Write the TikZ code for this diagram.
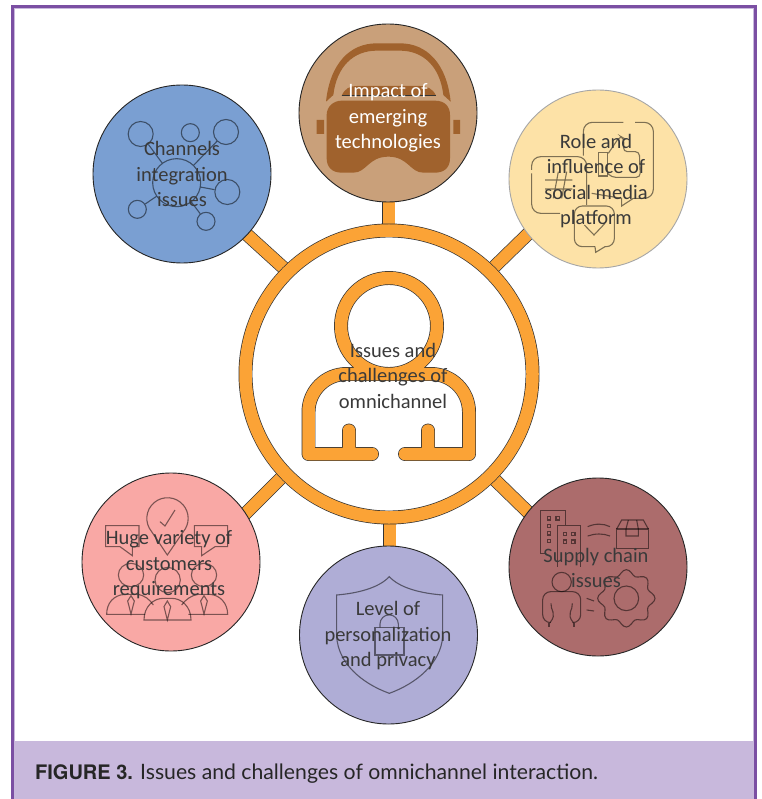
\documentclass[tikz,border=0pt]{standalone}
\usepackage{fontspec}
\setmainfont{Carlito}
\newfontfamily\capbold{TeX Gyre Heros}
\newfontfamily\capreg{Lato}
\usetikzlibrary{backgrounds}
\pgfdeclarelayer{bottom}
\pgfsetlayers{bottom,background,main}
\definecolor{fr}{HTML}{7B4FA3}
\definecolor{frl}{HTML}{C8B8DC}
\definecolor{org}{HTML}{FBA336}
\definecolor{vr}{HTML}{A0622D}
\definecolor{txt}{HTML}{3A3A3A}
\definecolor{ctop}{HTML}{C9A07A}
\definecolor{cblue}{HTML}{7A9FD2}
\definecolor{cyel}{HTML}{FDE2A7}
\definecolor{cpink}{HTML}{F9A8A5}
\definecolor{cmar}{HTML}{AC6C6C}
\definecolor{cpur}{HTML}{AFADD6}
\tikzset{
 disc/.style={circle,inner sep=0pt,minimum size=178pt,draw=black!85,line width=.9pt,fill=#1},
 lbl/.style={align=center,text=txt,font=\fontsize{20.5}{25.5}\selectfont,inner sep=0pt},
 ic/.style={draw=black,draw opacity=.5,line width=1.1pt,fill=none},
 pipe/.style={draw=black!80,line width=.7pt,double=org,double distance=12pt},
 icn/.style={circle,inner sep=0pt,draw=black,draw opacity=.5,line width=1.1pt},
 zoomed/.style={x=.33333pt,y=-.33333pt}
}
\begin{document}
\begin{tikzpicture}[x=1pt,y=-1pt]
\useasboundingbox (0,0) rectangle (761,799);
\begin{pgfonlayer}{bottom}
\fill[white] (0,0) rectangle (761,799);
\end{pgfonlayer}
% frame
\fill[frl] (14,741) rectangle (754,799);
\draw[frl,line width=1pt] (14.5,799) -- (14.5,8.5) -- (753.5,8.5) -- (753.5,799);
\draw[fr,line width=3.2pt] (12.6,799) -- (12.6,6.6) -- (755.4,6.6) -- (755.4,799);
% discs and ring
\node[disc=ctop] (top) at (388,113) {};
\node[disc=cblue] (blue) at (182,174) {};
\node[disc=cyel,draw=black!35] (yel) at (598,179) {};
\node[disc=cpink] (pink) at (171,562) {};
\node[disc=cmar] (mar) at (598,567) {};
\node[disc=cpur] (pur) at (388.5,635) {};
\node[circle,inner sep=0pt,minimum size=287pt,draw=black!80,line width=.7pt,double=org,double distance=12.5pt,fill=white] (ring) at (389,374) {};
% connectors
\begin{scope}[on background layer]
\coordinate (rt) at (388.5,228); \coordinate (rb) at (389.5,518);
\coordinate (rtl) at (287,271); \coordinate (rtr) at (491,270);
\coordinate (rbl) at (284,475); \coordinate (rbr) at (492,477);
\coordinate (et) at (388.5,198); \coordinate (eb) at (389.5,550);
\coordinate (etl) at (243,231); \coordinate (etr) at (532,230);
\coordinate (ebl) at (242,517); \coordinate (ebr) at (532,516);
\draw[pipe] (rt) -- (et);
\draw[pipe] (rb) -- (eb);
\draw[pipe] (rtl) -- (etl);
\draw[pipe] (rtr) -- (etr);
\draw[pipe] (rbl) -- (ebl);
\draw[pipe] (rbr) -- (ebr);
\end{scope}
% person
\draw[draw=black!80,line width=.7pt,double=org,double distance=12.5pt,line cap=round,line join=round]
 (389,326) circle[radius=48]
 (372,454) -- (308.5,454) -- (308.5,412) arc[start angle=180,end angle=270,radius=38] -- (431,374)
 arc[start angle=270,end angle=360,radius=38] -- (469,454) -- (405,454)
 (349,454) -- (349,430.5)
 (428,454) -- (428,430.5);
% VR headset
\begin{scope}[shift={(280,0)},zoomed]
\fill[vr] (185,302) -- (465,302) .. controls (495,302) and (510,320) .. (510,345) -- (510,475) .. controls (510,505) and (490,518) .. (465,518) -- (430,518) .. controls (390,518) and (385,470) .. (325,470) .. controls (265,470) and (260,518) .. (220,518) -- (185,518) .. controls (155,518) and (140,500) .. (140,475) -- (140,345) .. controls (140,320) and (160,302) .. (185,302) -- cycle;
\fill[vr] (110,360) rectangle (132,402) (520,360) rectangle (540,402);
\fill[vr] (138,305) .. controls (150,190) and (210,130) .. (290,130) -- (360,130) .. controls (440,130) and (500,190) .. (512,305) -- (490,285) .. controls (480,200) and (430,152) .. (360,152) -- (290,152) .. controls (220,152) and (170,200) .. (160,285) -- cycle;
\fill[vr] (185,287) .. controls (195,265) and (210,258) .. (230,258) -- (420,258) .. controls (440,258) and (458,265) .. (468,287) -- cycle;
\draw[black!80,line width=.7pt] (185,287) -- (468,287);
\end{scope}
% network
\begin{scope}[shift={(80,100)},zoomed]
\node[icn,minimum size=48pt] (hub) at (290,248) {};
\node[icn,minimum size=25pt] (s1) at (182,102) {};
\node[icn,minimum size=18pt] (s2) at (331,98) {};
\node[icn,minimum size=25pt] (s3) at (438,96) {};
\node[icn,minimum size=25pt] (s4) at (442,276) {};
\node[icn,minimum size=18pt] (s5) at (378,364) {};
\node[icn,minimum size=18pt] (s6) at (172,328) {};
\draw[ic] (hub) -- (s1);
\draw[ic] (hub) -- (s3);
\draw[ic] (hub) -- (s4);
\draw[ic] (hub) -- (s5);
\draw[ic] (hub) -- (s6);
\end{scope}
% social media
\begin{scope}[shift={(495,90)},zoomed]
\draw[ic,rounded corners=9pt] (385,97) -- (265,97) -- (265,197);
\draw[ic,rounded corners=9pt] (420,97) -- (475,97) -- (475,325) -- (415,325);
\draw[ic] (415,325) -- (380,348) -- (380,325) -- (290,310);
\draw[ic,rounded corners=9pt] (110,240) -- (110,200) -- (275,200) -- (275,345);
\draw[ic,rounded corners=9pt] (110,250) -- (110,370) -- (195,370);
\draw[ic] (150,270) -- (232,270) (150,297) -- (232,297) (190,245) -- (175,325) (215,245) -- (200,325);
\draw[ic] (310,187) rectangle (338,258);
\draw[ic,rounded corners=4pt] (340,190) -- (375,138) -- (387,145) -- (385,185) -- (433,185) -- (436,262) -- (350,262) -- (338,250);
\draw[ic,rounded corners=8pt] (300,470) -- (238,470) -- (238,348) -- (358,348) -- (358,470) -- (330,470);
\draw[ic] (330,470) -- (302,487) -- (300,470);
\draw[ic] (268,405) -- (297,435) -- (330,400);
\end{scope}
% customers
\begin{scope}[shift={(70,465)},zoomed]
\draw[ic] (245,200) arc[start angle=140,end angle=400,radius=62] -- (292,270) -- cycle;
\draw[ic] (270,170) -- (285,183) -- (315,135);
\draw[ic] (150,245) -- (107,245) -- (107,182) -- (207,182) -- (207,245) -- (187,245) -- (187,272) -- cycle;
\draw[ic] (395,245) -- (373,245) -- (373,182) -- (473,182) -- (473,245) -- (435,245) -- (395,272) -- cycle;
\draw[ic] (183,330) ellipse[x radius=38,y radius=35];
\draw[ic] (402,330) ellipse[x radius=38,y radius=35];
\draw[ic] (293,345) ellipse[x radius=38,y radius=38];
\draw[ic] (225,448) -- (110,448) .. controls (110,415) and (130,390) .. (165,388) -- (200,388) .. controls (225,390) and (240,405) .. (250,420);
\draw[ic] (355,448) -- (473,448) .. controls (473,415) and (450,390) .. (420,388) -- (385,388) .. controls (365,390) and (345,405) .. (335,420);
\draw[ic] (222,465) .. controls (222,425) and (250,400) .. (280,400) -- (305,400) .. controls (335,400) and (363,425) .. (363,465) -- cycle;
\draw[ic] (292,408) -- (282,425) -- (292,465) -- (302,425) -- cycle;
\draw[ic] (183,392) -- (173,408) -- (183,447) -- (193,408) -- cycle;
\draw[ic] (402,392) -- (392,408) -- (402,447) -- (412,408) -- cycle;
\end{scope}
% supply chain
\begin{scope}[shift={(495,470)},zoomed]
\draw[ic] (150,250) -- (137,250) -- (137,122) -- (212,122) -- (212,165);
\draw[ic] (187,290) -- (187,167) -- (257,167) -- (257,290);
\foreach \p/\q in {162/145,188/145,162/168,162/190,162/213,210/192,235/192,210/215,235/215}
 \draw[ic] (\p-5,\q-5) rectangle (\p+5,\q+5);
\draw[ic] (278,170) .. controls (300,160) and (325,160) .. (345,170);
\draw[ic] (278,198) .. controls (300,190) and (325,190) .. (345,198);
\draw[ic] (365,177) rectangle (460,235);
\draw[ic] (365,177) -- (380,150) -- (445,150) -- (460,177);
\draw[ic] (400,150) -- (393,177) -- (393,198) -- (430,198) -- (430,177) -- (425,150);
\node[icn,minimum size=19.3pt] (pers) at (200,336) {};
\draw[ic,rounded corners=8pt] (165,458) -- (143,458) -- (143,365) -- (257,365) -- (257,458) -- (235,458);
\draw[ic] (168,400) .. controls (165,420) and (188,430) .. (165,458);
\draw[ic] (232,400) .. controls (235,420) and (212,430) .. (235,458);
\draw[ic] (162,458) -- (162,470) (237,458) -- (237,470);
\draw[ic] (275,385) -- (297,393) (275,420) -- (297,423);
\draw[ic] plot[smooth cycle,samples=64,domain=0:354.375] ({394+(78+8*cos(8*\x))*cos(\x)},{385+(78+8*cos(8*\x))*sin(\x)});
\draw[ic] (394,385) circle[radius=37];
\end{scope}
% shield
\begin{scope}[shift={(290,540)},zoomed]
\draw[ic] (298,110) .. controls (265,145) and (200,160) .. (140,165) -- (140,290) .. controls (145,370) and (215,430) .. (298,460) .. controls (380,430) and (452,370) .. (458,290) -- (458,165) .. controls (395,160) and (330,145) .. (298,110) -- cycle;
\draw[ic] (255,262) rectangle (342,345);
\draw[ic] (270,262) -- (270,252) arc[start angle=180,end angle=360,radius=27.5] -- (325,262);
\end{scope}
% labels
\node[lbl,text=white] (tTop) at (388,118) {Impact of\\emerging\\technologies};
\node[lbl] (tBlue) at (182,174) {Channels\\integration\\issues};
\node[lbl] (tYel) at (596,181) {Role and\\influence of\\social media\\platform};
\node[lbl] (tRing) at (393,375.5) {Issues and\\challenges of\\omnichannel};
\node[lbl] (tPink) at (169,565) {Huge variety of\\customers\\requirements};
\node[lbl] (tMar) at (596,568) {Supply chain\\issues};
\node[lbl] (tPur) at (388,636) {Level of\\personalization\\and privacy};
\node[anchor=base west,inner sep=0pt,text=black!85,font=\capreg\fontsize{21.2}{23}\selectfont] (cap) at (35,779.5) {{\capbold\fontsize{20}{22}\selectfont\bfseries FIGURE 3.} Issues and challenges of omnichannel interaction.};
\end{tikzpicture}
\end{document}
